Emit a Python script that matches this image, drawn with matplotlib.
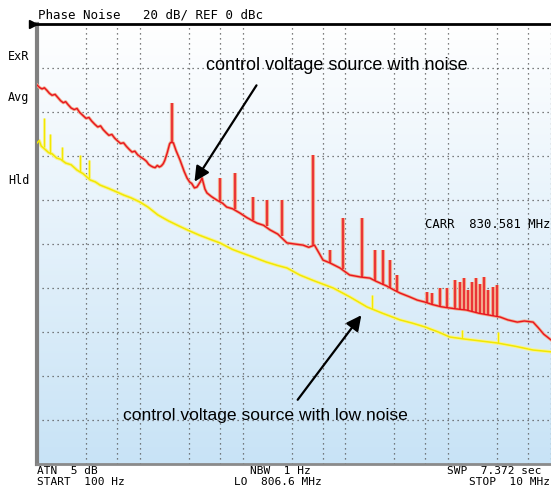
import numpy as np
import matplotlib
matplotlib.use("Agg")
import matplotlib.pyplot as plt
from matplotlib.colors import LinearSegmentedColormap

W, H = 551, 490

# trace with noise (red), baseline
red_f = [100, 106, 112, 118, 125, 132, 140, 150, 160, 170, 180, 190, 200, 215, 230,
         245, 260, 280, 300, 320, 340, 365, 390, 415, 440, 470, 500, 535, 570, 610,
         650, 695, 740, 790, 840, 895, 950, 1020, 1100, 1160, 1220, 1280, 1340, 1410,
         1480, 1550, 1620, 1690, 1750, 1850, 1950, 2000, 2120, 2250, 2460, 2700,
         2880, 3050, 3200, 3400, 3600, 3750, 3900, 4030, 4300, 4500, 5000, 5600,
         6400, 7000, 8000, 9400, 11000, 13800, 16000, 18500, 22000, 27000, 32000,
         38700, 44000, 50000, 56000, 60500, 70000, 88500, 110000, 140000, 173000,
         200000, 250000, 300000, 340000, 420000, 500000, 594000, 700000, 850000,
         1.0e6, 1.2e6, 1.5e6, 2.0e6, 2.5e6, 3.2e6, 3.8e6, 4.7e6, 5.5e6, 6.7e6,
         7.5e6, 8.5e6, 1.0e7]
red_db = [-27.7, -28.9, -29.5, -29.0, -30.2, -31.5, -32.4, -32.0, -33.5, -34.9,
          -35.8, -35.3, -36.6, -38.2, -38.9, -38.4, -40.2, -41.6, -42.9, -42.5,
          -44.1, -45.6, -46.8, -46.3, -48.0, -49.4, -50.6, -50.2, -51.9, -53.2,
          -54.3, -54.0, -55.6, -57.0, -58.2, -57.8, -59.4, -60.5, -61.5, -62.4,
          -63.8, -64.5, -65.0, -65.3, -64.3, -65.0, -64.5, -63.5, -62.0, -58.5,
          -54.5, -53.8, -54.0, -57.5, -61.8, -67.0, -70.0, -71.8, -72.5, -74.5,
          -74.1, -72.8, -71.5, -70.0, -75.0, -76.8, -78.5, -80.0, -81.5, -83.2,
          -84.0, -85.9, -88.0, -90.5, -91.5, -93.6, -95.5, -99.5, -100.0, -100.5,
          -101.5, -100.5, -104.5, -107.3, -108.5, -110.9, -114.1, -115.0, -115.5,
          -117.0, -119.0, -121.0, -122.3, -124.0, -125.5, -126.4, -127.5, -128.5,
          -129.0, -129.5, -130.0, -131.5, -132.3, -133.2, -134.5, -135.5, -135.0,
          -135.5, -138.0, -141.0, -143.6]

# spurs on the noisy trace: frequency, top, base
red_spur_f = [2060, 6030, 8430, 12600, 17300, 24200, 48400, 70800, 94800, 145000,
              194000, 232000, 272000, 318000, 622000, 6.95e5, 8.32e5, 9.73e5,
              1.164e6, 1.30e6, 1.43e6, 1.56e6, 1.71e6, 1.86e6, 2.04e6, 2.23e6,
              2.44e6, 2.73e6, 2.99e6]
red_spur_top = [-36.0, -70.0, -67.7, -78.6, -80.0, -80.0, -59.5, -102.7, -88.2,
                -88.2, -102.7, -102.7, -107.3, -114.1, -121.8, -122.3, -120.0,
                -120.0, -116.4, -117.3, -115.5, -120.9, -117.3, -115.5, -118.0,
                -115.0, -120.9, -119.5, -118.6]
red_spur_base = [-54.0, -80.5, -84.0, -89.0, -92.0, -96.5, -100.5, -108.5, -111.5,
                 -115.0, -117.0, -118.5, -120.0, -121.5, -127.0, -127.5, -128.5,
                 -129.0, -129.3, -129.5, -129.8, -130.0, -130.5, -131.0, -131.5,
                 -132.0, -132.3, -132.8, -133.0]

# low noise trace (yellow)
yel_f = [100, 105, 110, 120, 130, 140, 155, 170, 190, 215, 245, 280, 330, 370, 410,
         500, 600, 700, 820, 1000, 1200, 1500, 1900, 2400, 2900, 3800, 4800, 6000,
         8000, 10000, 12600, 17000, 22000, 27000, 36000, 50000, 76000, 110000,
         162000, 230000, 340000, 450000, 594000, 800000, 1.04e6, 1.5e6, 2.0e6,
         3.0e6, 4.5e6, 6.7e6, 1.0e7]
yel_db = [-54.1, -53.0, -55.5, -57.0, -58.5, -59.0, -60.9, -61.5, -63.2, -64.0,
          -66.4, -68.0, -70.9, -71.8, -73.2, -74.8, -76.4, -77.8, -79.0, -80.9,
          -83.2, -86.8, -89.5, -91.8, -93.6, -96.0, -97.8, -99.5, -102.5, -104.2,
          -105.9, -108.2, -109.8, -110.9, -114.1, -116.8, -120.0, -124.0, -128.6,
          -131.5, -134.5, -136.0, -137.7, -140.0, -142.3, -143.3, -144.0, -145.0,
          -146.5, -148.2, -149.0]
yel_spur_f = [117, 134, 175, 262, 320, 181500, 1.36e6, 3.05e6]
yel_spur_top = [-42.7, -50.0, -55.9, -59.5, -62.0, -123.2, -139.0, -140.0]
yel_spur_base = [-56.0, -59.0, -62.0, -67.5, -70.0, -129.5, -142.8, -145.2]

grid_f = [f * m for f in [100, 1000, 10000, 100000, 1000000] for m in (1, 3, 6)] + [1e7]

fig = plt.figure(figsize=(W / 100, H / 100), dpi=100)
ax = fig.add_axes([37 / W, 1 - 464 / H, 1 - 37 / W, 440 / H])

# background gradient white -> light blue
cmap = LinearSegmentedColormap.from_list("bg", ["#ffffff", "#c8e3f6"])
ax.imshow(np.linspace(0, 1, 256).reshape(-1, 1), cmap=cmap, aspect="auto",
          extent=[0, 1, 0, 1], transform=ax.transAxes, zorder=0)

ax.set_xscale("log")
ax.set_xlim(100, 1e7)
ax.set_ylim(-200, 0)

for f in grid_f:
    ax.axvline(f, color="#555555", lw=0.9, ls=(0, (1, 3)), zorder=1)
for d in range(-180, 0, 20):
    ax.axhline(d, color="#555555", lw=0.9, ls=(0, (1, 3)), zorder=1)

# yellow trace
ax.plot(yel_f, yel_db, color="#f7f39a", lw=2.6, zorder=2)
ax.vlines(yel_spur_f, yel_spur_base, yel_spur_top, color="#f7f39a", lw=2.2, zorder=2)
ax.plot(yel_f, yel_db, color="#f2e800", lw=1.1, zorder=3)
ax.vlines(yel_spur_f, yel_spur_base, yel_spur_top, color="#f2e800", lw=0.9, zorder=3)

# red trace
ax.plot(red_f, red_db, color="#f2a88a", lw=2.2, zorder=4)
ax.vlines(red_spur_f, red_spur_base, red_spur_top, color="#f2a88a", lw=3.0, zorder=4)
ax.plot(red_f, red_db, color="#e8141e", lw=1.0, zorder=5)
ax.vlines(red_spur_f, red_spur_base, red_spur_top, color="#e8141e", lw=1.1, zorder=5)

ax.set_xticks([])
ax.set_yticks([])
ax.minorticks_off()
ax.spines["right"].set_visible(False)
ax.spines["top"].set_color("black")
ax.spines["top"].set_linewidth(2)
ax.spines["left"].set_color("#808080")
ax.spines["left"].set_linewidth(3)
ax.spines["bottom"].set_color("#8a8a8a")
ax.spines["bottom"].set_linewidth(2)
ax.plot([-0.008], [1.0], marker=">", color="black", ms=6, transform=ax.transAxes,
        clip_on=False, zorder=10)


def px(x, y):
    return x / W, 1 - y / H


mono = "DejaVu Sans Mono"
fig.text(*px(38, 15), "Phase Noise   20 dB/ REF 0 dBc", family=mono, fontsize=9,
         va="center", ha="left")
for lab, y in [("ExR", 56), ("Avg", 97), ("Hld", 181)]:
    fig.text(*px(8, y), lab, family=mono, fontsize=8.5, va="center", ha="left")
fig.text(*px(425, 225), "CARR  830.581 MHz", family=mono, fontsize=8.8, va="center",
         ha="left")

fig.text(*px(37, 471), "ATN  5 dB", family=mono, fontsize=8, va="center")
fig.text(*px(37, 482), "START  100 Hz", family=mono, fontsize=8, va="center")
fig.text(*px(250, 471), "NBW  1 Hz", family=mono, fontsize=8, va="center")
fig.text(*px(234, 482), "LO  806.6 MHz", family=mono, fontsize=8, va="center")
fig.text(*px(447, 471), "SWP  7.372 sec", family=mono, fontsize=8, va="center")
fig.text(*px(550, 482), "STOP  10 MHz", family=mono, fontsize=8, va="center", ha="right")

sans = "Liberation Sans"
fig.text(*px(337, 65), "control voltage source with noise", family=sans, fontsize=13,
         ha="center", va="center")
fig.text(*px(265, 415), "control voltage source with low noise", family=sans,
         fontsize=12.6, ha="center", va="center")

arrow = dict(arrowstyle="-|>,head_length=0.9,head_width=0.45", color="black", lw=1.6)
ax.annotate("", xy=px(193, 184), xytext=px(258, 83), xycoords="figure fraction",
            textcoords="figure fraction", arrowprops=arrow, zorder=11)
ax.annotate("", xy=px(363, 313), xytext=px(296, 402), xycoords="figure fraction",
            textcoords="figure fraction", arrowprops=arrow, zorder=11)

fig.savefig("out.png", dpi=100)
